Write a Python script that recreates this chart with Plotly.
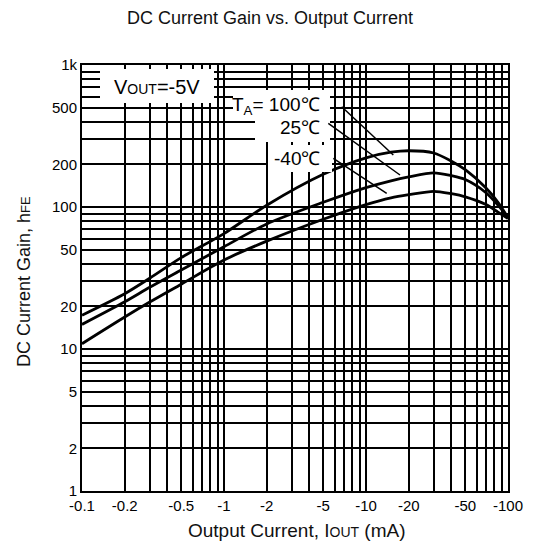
import plotly.graph_objects as go

# ---- data ----
I_OUT_MA = [0.1, 0.2, 0.3, 0.5, 1, 2, 5, 10, 15, 20, 30, 40, 50, 70, 85, 100]
HFE_100C = [17.3, 24.5, 31.5, 44, 65, 103, 170, 222, 243, 249, 240, 210, 183, 136, 108, 84]
HFE_25C = [14.9, 21.5, 27.2, 36, 52.5, 76, 108, 137, 153, 163, 174, 166, 156, 126, 103, 84]
HFE_M40C = [10.9, 16.8, 21.4, 28.6, 42.3, 57.5, 82, 104, 116, 122, 129, 124, 118, 104, 92, 83]

X_TICKS = [0.1, 0.2, 0.5, 1, 2, 5, 10, 20, 50, 100]
X_TICK_TEXT = ["-0.1", "-0.2", "-0.5", "-1", "-2", "-5", "-10", "-20", "-50", "-100"]
Y_TICKS = [1, 2, 5, 10, 20, 50, 100, 200, 500, 1000]
Y_TICK_TEXT = ["1", "2", "5", "10", "20", "50", "100", "200", "500", "1k"]

FONT = "Liberation Sans, Arial, Helvetica, sans-serif"

# minor log grid positions (2..9 of each decade, excluding labelled ones)
minor_x = [m * 10.0 ** e for e in range(-1, 2) for m in range(2, 10)]
minor_x = [v for v in minor_x if min(abs(v - t) for t in X_TICKS) > 1e-9]
minor_y = [m * 10.0 ** e for e in range(0, 3) for m in range(2, 10)]
minor_y = [v for v in minor_y if min(abs(v - t) for t in Y_TICKS) > 1e-9]

fig = go.Figure()
for ys in (HFE_100C, HFE_25C, HFE_M40C):
    fig.add_trace(go.Scatter(
        x=I_OUT_MA, y=ys, mode="lines",
        line=dict(color="black", width=2.8, shape="spline", smoothing=0.8),
        showlegend=False, hoverinfo="skip"))

W, H = 540, 548
L, R, T, B = 82, 32, 65, 57
PW, PH = W - L - R, H - T - B


def px(x):
    return (x - L) / PW


def py(y):
    return (H - B - y) / PH


axis_common = dict(
    type="log", showline=True, linecolor="black", linewidth=2, mirror=True,
    showgrid=True, gridcolor="black", gridwidth=1.7, ticks="", zeroline=False,
    tickfont=dict(family=FONT, size=15, color="black"),
)

fig.update_xaxes(
    range=[-1, 2], tickvals=X_TICKS, ticktext=X_TICK_TEXT,
    minor=dict(tickvals=minor_x, showgrid=True, gridcolor="black", gridwidth=1.7, ticks=""),
    **axis_common)
fig.update_yaxes(
    range=[0, 3], tickvals=Y_TICKS, ticktext=Y_TICK_TEXT,
    minor=dict(tickvals=minor_y, showgrid=True, gridcolor="black", gridwidth=1.7, ticks=""),
    **axis_common)

shapes = []
# white label boxes
for (x0, y0, x1, y1) in [(100, 69, 214, 103), (233, 90, 330, 121), (255, 121, 330, 142), (268, 145, 332, 172)]:
    shapes.append(dict(type="rect", xref="paper", yref="paper", x0=px(x0), x1=px(x1), y0=py(y1), y1=py(y0),
                       fillcolor="white", line=dict(width=0), layer="above"))
# leader lines
for (x0, y0, x1, y1) in [(341.7, 106.7, 393.3, 155), (328.3, 123.3, 400, 175), (333.3, 158.3, 386.7, 193.3)]:
    shapes.append(dict(type="line", xref="paper", yref="paper", x0=px(x0), x1=px(x1), y0=py(y0), y1=py(y1),
                       line=dict(color="black", width=1.5), layer="above"))

ann = [
    dict(x=px(157), y=py(87), text="V<span style='font-size:14px'>OUT</span>=-5V",
         font=dict(family=FONT, size=20, color="black")),
    dict(x=px(322), y=py(106), xanchor="right", text="T<sub>A</sub>= 100℃",
         font=dict(family=FONT, size=19, color="black")),
    dict(x=px(322), y=py(127), xanchor="right", text="25℃",
         font=dict(family=FONT, size=19, color="black")),
    dict(x=px(322), y=py(158), xanchor="right", text="-40℃",
         font=dict(family=FONT, size=19, color="black")),
    dict(x=px(297), y=py(530), text="Output Current, I<span style='font-size:14px'>OUT</span> (mA)",
         font=dict(family=FONT, size=19, color="#111")),
    dict(x=px(24), y=py(282), textangle=-90, text="DC Current Gain, h<span style='font-size:13px'>FE</span>",
         font=dict(family=FONT, size=18, color="#111")),
]
for a in ann:
    a.update(xref="paper", yref="paper", showarrow=False)
    a.setdefault("xanchor", "center")
    a.setdefault("yanchor", "middle")

fig.update_layout(
    width=W, height=H,
    margin=dict(l=L, r=R, t=T, b=B),
    paper_bgcolor="white", plot_bgcolor="white",
    title=dict(text="DC Current Gain vs. Output Current", x=0.5, xanchor="center",
               y=1 - 18 / H, yanchor="middle", font=dict(family=FONT, size=18, color="#111")),
    shapes=shapes, annotations=ann, showlegend=False,
)

fig.write_html("out.html", config={"displayModeBar": False},
               post_script="document.body.style.margin='0px';")
